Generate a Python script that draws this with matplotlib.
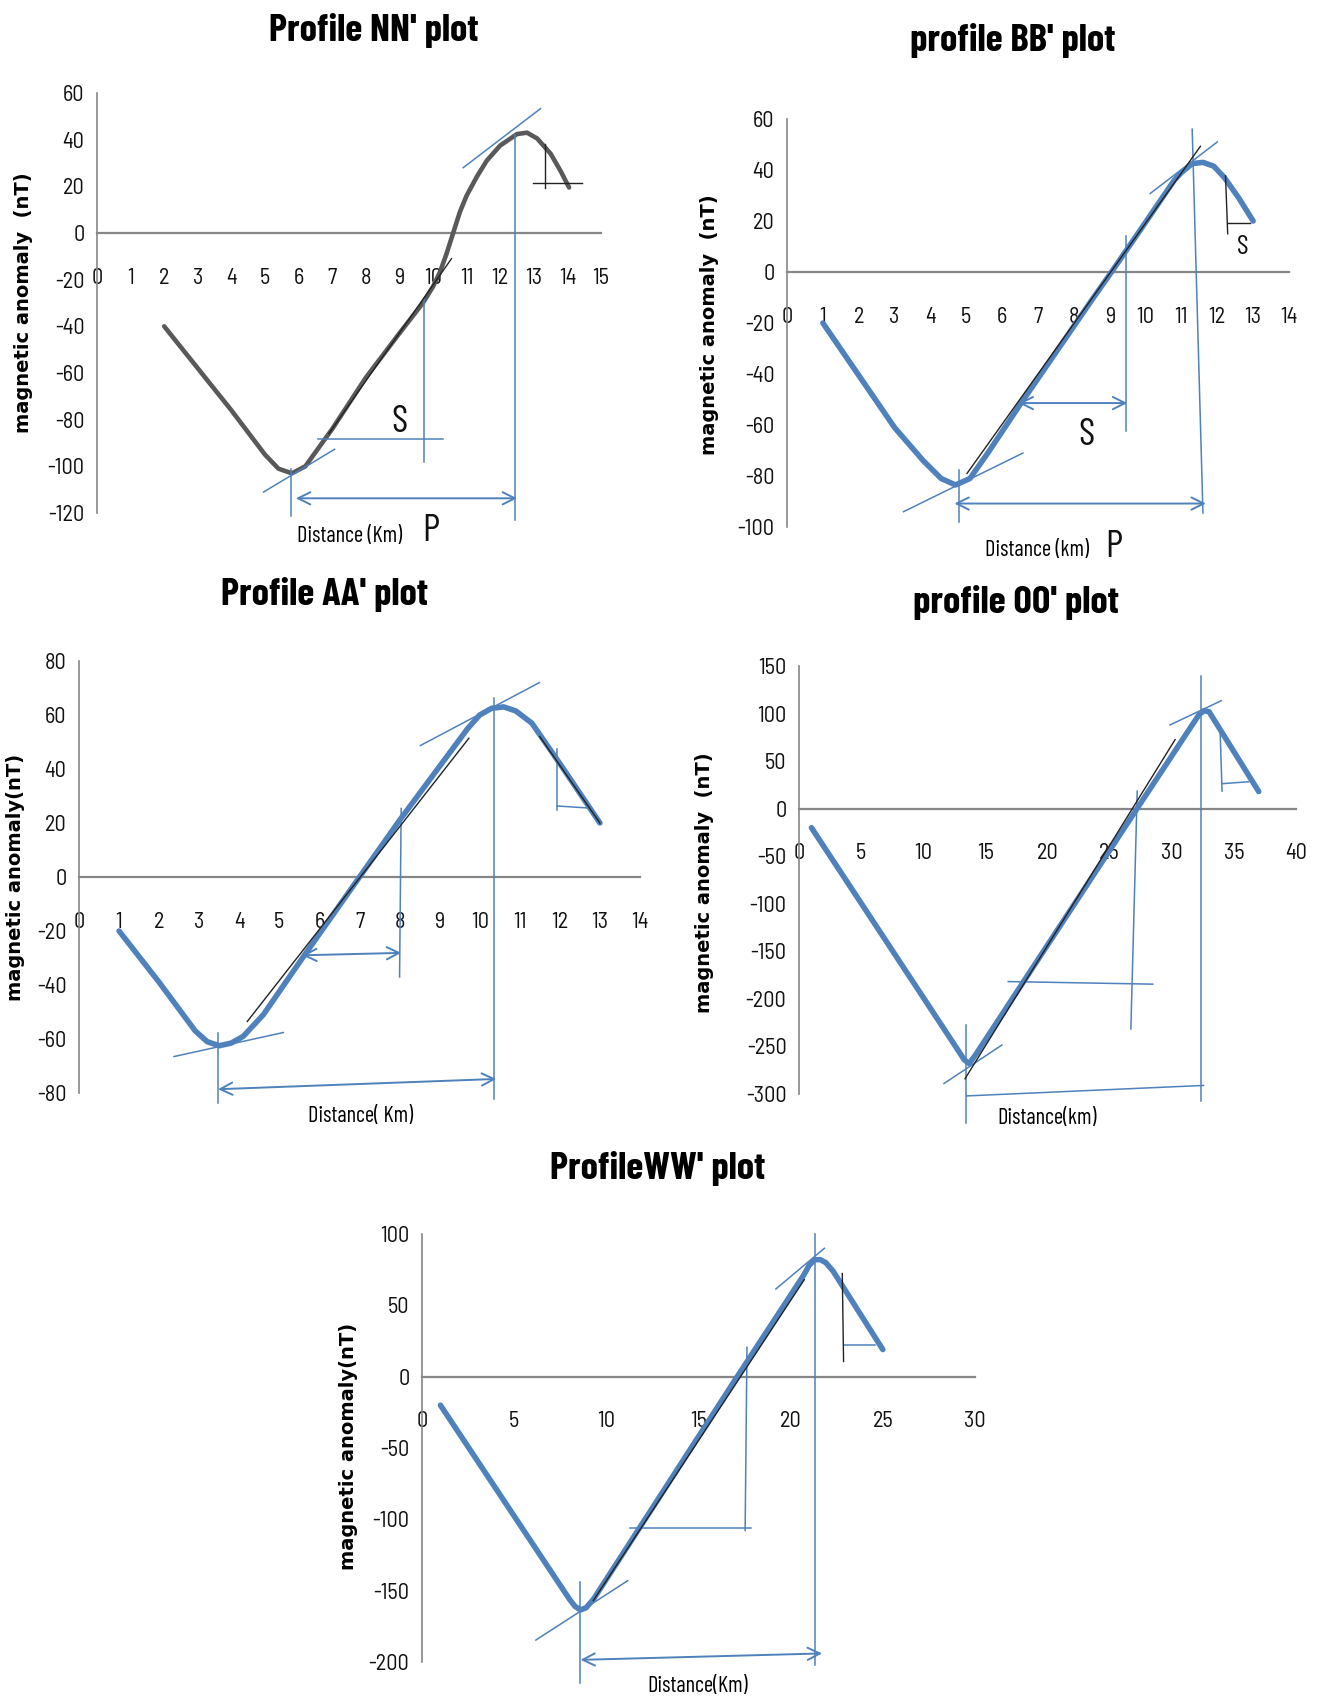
import matplotlib.pyplot as plt

plt.rcParams["axes.unicode_minus"] = False

BLUE = "#4F81BD"
CURVE_GRAY = "#595959"
AXIS_GRAY = "#868686"
NARROW = ["Barlow Condensed", "DejaVu Sans"]
TICKFONT = ["Barlow Semi Condensed", "DejaVu Sans"]

# ---------------- Profile NN' ----------------
nn_x = [2, 3, 4, 5, 5.4, 5.8, 6.2, 7, 8, 9, 9.7, 10.0, 10.2, 10.4, 10.6, 10.8, 11.0, 11.3,
        11.6, 12.0, 12.5, 12.8, 13.1, 13.5, 13.8, 14.05]
nn_y = [-40, -58, -76, -95, -101, -103, -100, -84, -62, -43, -30, -23, -17, -9, 0, 9, 16, 24,
        31, 37.5, 42.4, 43, 40.5, 34, 26.5, 19.5]
nn_xticks = list(range(0, 16))
nn_yticks = list(range(-120, 61, 20))
nn_blue = [((10.9, 28), (13.2, 53.3)), ((12.44, 42), (12.44, -123)),
           ((4.96, -111), (7.07, -92.7)), ((5.77, -101), (5.77, -121.5)),
           ((6.57, -88.5), (10.3, -88.5)), ((9.74, -28), (9.74, -98))]
nn_black = [((13.33, 38), (13.33, 19.5)), ((12.97, 21.5), (14.43, 21.5)),
            ((6.9, -86), (10.55, -11))]
nn_arrows = [((5.92, -113.7), (12.5, -113.7))]
nn_notes = [("S", 8.99, -81, 28), ("P", 9.93, -128, 28)]

# ---------------- Profile BB' ----------------
bb_x = [1, 2, 3, 3.8, 4.3, 4.7, 5.1, 5.6, 6.5, 7.5, 8.5, 9.05, 10, 10.8, 11.0, 11.3,
        11.6, 11.9, 12.2, 12.6, 13]
bb_y = [-20, -40.5, -61, -74, -81, -83.5, -81, -71, -52, -31.5, -11, 0, 19.5, 36, 39, 42.5,
        43, 41.5, 37, 29, 20]
bb_xticks = list(range(0, 15))
bb_yticks = list(range(-100, 61, 20))
bb_blue = [((11.3, 56), (11.6, -94.5)), ((10.13, 30.8), (12.0, 51)),
           ((3.25, -94), (6.58, -71)), ((4.81, -77.7), (4.81, -98)),
           ((9.46, 14.3), (9.46, -62.3))]
bb_black = [((5.02, -79), (11.53, 49.3)), ((12.23, 37.7), (12.29, 15)),
            ((12.29, 19.4), (12.9, 19.4))]
bb_arrows = [((4.67, -90.8), (11.68, -90.8)), ((6.46, -51.4), (9.49, -51.4))]
bb_notes = [("S", 8.35, -64, 28), ("S", 12.7, 10, 20), ("P", 9.11, -108, 28)]

# ---------------- Profile AA' ----------------
aa_x = [1, 2, 2.9, 3.2, 3.5, 3.8, 4.1, 4.6, 5.6, 7.0, 8.0, 9.0, 9.7, 10.0, 10.3, 10.6,
        10.9, 11.3, 12, 13]
aa_y = [-20, -39, -57, -61, -62.5, -61.5, -59, -51, -29.5, 0, 21, 41, 55, 60, 62.5, 63,
        61.5, 57, 42, 20]
aa_xticks = list(range(0, 15))
aa_yticks = list(range(-80, 81, 20))
aa_blue = [((10.36, 66.3), (10.36, -82.3)), ((8.52, 48.7), (11.49, 72)),
           ((2.37, -66.5), (5.1, -57.6)), ((3.46, -57.6), (3.46, -83.7)),
           ((8.04, 25.4), (8.0, -37)), ((11.93, 47.3), (11.93, 24.7)),
           ((11.93, 26.3), (12.67, 25.6))]
aa_black = [((4.2, -53.5), (9.73, 51.4)), ((11.5, 52), (13.0, 20))]
aa_arrows = [((3.47, -78.6), (10.41, -74.8)), ((5.57, -29), (8.04, -28.1))]

# ---------------- Profile OO' ----------------
oo_x = [1, 12.8, 13.3, 13.7, 14.2, 27.2, 32.2, 32.6, 33.0, 37]
oo_y = [-20, -254, -264, -268, -259, 0, 99, 103, 102, 18]
oo_xticks = list(range(0, 41, 5))
oo_yticks = list(range(-300, 151, 50))
oo_blue = [((32.36, 139), (32.36, -307)), ((29.86, 88), (33.98, 113.5)),
           ((11.67, -289), (16.33, -248.5)), ((13.46, -227), (13.46, -331)),
           ((13.52, -302), (32.56, -291)), ((16.84, -181.8), (28.47, -184.5)),
           ((27.22, 18.5), (26.71, -231.6)), ((33.9, 79), (34.05, 18.5)),
           ((34.1, 26.3), (36.18, 28.3))]
oo_black = [((13.36, -284), (30.27, 72.6))]

# ---------------- Profile WW' ----------------
ww_x = [1, 8.0, 8.3, 8.6, 8.9, 9.3, 17.1, 20.7, 21.0, 21.3, 21.6, 21.9, 22.3, 25]
ww_y = [-20, -156, -161, -163.5, -162, -156, 0, 71, 78, 82, 82, 80, 74, 19]
ww_xticks = list(range(0, 31, 5))
ww_yticks = list(range(-200, 101, 50))
ww_blue = [((21.3, 100), (21.3, -202)), ((19.2, 61.5), (21.83, 90)),
           ((6.18, -184.6), (11.16, -143)), ((8.56, -144), (8.56, -215)),
           ((11.28, -106), (17.83, -106)), ((17.63, 20.6), (17.53, -107.8)),
           ((22.87, 21.9), (24.6, 21.9))]
ww_black = [((9.29, -157), (20.74, 68)), ((22.8, 72.3), (22.87, 10.6))]
ww_arrows = [((8.6, -198.5), (21.7, -194))]

W, H = 1317, 1698
fig = plt.figure(figsize=(W / 100, H / 100), dpi=100)


def make_axes(left, right, top, bottom):
    return fig.add_axes([left / W, 1 - bottom / H, (right - left) / W, (bottom - top) / H])


def draw_profile(ax, x, y, color, lw, xticks, yticks, blue, black, arrows, notes=()):
    ax.plot(x, y, color=color, lw=lw, solid_capstyle="round", solid_joinstyle="round", zorder=3)
    for (x0, y0), (x1, y1) in blue:
        ax.plot([x0, x1], [y0, y1], color=BLUE, lw=1.1, clip_on=False, zorder=4)
    for (x0, y0), (x1, y1) in black:
        ax.plot([x0, x1], [y0, y1], color="#222222", lw=1.0, clip_on=False, zorder=5)
    for (x0, y0), (x1, y1) in arrows:
        ax.annotate("", xy=(x1, y1), xytext=(x0, y0), annotation_clip=False,
                    arrowprops=dict(arrowstyle="<->", color=BLUE, lw=1.4,
                                    mutation_scale=22, shrinkA=0, shrinkB=0))
    for txt, tx, ty, fs in notes:
        ax.text(tx, ty, txt, fontsize=fs, family=NARROW, ha="center", va="center",
                color="#111111", clip_on=False)

    ax.set_xlim(xticks[0], xticks[-1])
    ax.set_ylim(yticks[0], yticks[-1])
    ax.set_xticks(xticks)
    ax.set_yticks(yticks)
    ax.spines["top"].set_visible(False)
    ax.spines["right"].set_visible(False)
    ax.spines["bottom"].set_position(("data", 0))
    ax.spines["bottom"].set_color(AXIS_GRAY)
    ax.spines["bottom"].set_linewidth(1.6)
    ax.spines["left"].set_color(AXIS_GRAY)
    ax.spines["left"].set_linewidth(1.2)
    ax.tick_params(length=0, labelsize=16, colors="#111111")
    ax.tick_params(axis="x", pad=25)
    ax.tick_params(axis="y", pad=9)
    for lab in ax.get_xticklabels() + ax.get_yticklabels():
        lab.set_family(TICKFONT)
    ax.patch.set_alpha(0)


ax1 = make_axes(97, 601, 93, 513)
draw_profile(ax1, nn_x, nn_y, CURVE_GRAY, 3.3, nn_xticks, nn_yticks,
             nn_blue, nn_black, nn_arrows, nn_notes)
ax2 = make_axes(787, 1289, 119, 527)
draw_profile(ax2, bb_x, bb_y, BLUE, 4, bb_xticks, bb_yticks,
             bb_blue, bb_black, bb_arrows, bb_notes)
ax3 = make_axes(79, 640, 661, 1093)
draw_profile(ax3, aa_x, aa_y, BLUE, 4, aa_xticks, aa_yticks,
             aa_blue, aa_black, aa_arrows)
ax4 = make_axes(799, 1296, 666, 1094)
draw_profile(ax4, oo_x, oo_y, BLUE, 4, oo_xticks, oo_yticks,
             oo_blue, oo_black, [])
ax5 = make_axes(422, 975, 1234, 1662)
draw_profile(ax5, ww_x, ww_y, BLUE, 4, ww_xticks, ww_yticks,
             ww_blue, ww_black, ww_arrows)

# titles, axis titles (placed in figure pixels like the Excel chart boxes)
titles = [("Profile NN' plot", 374, 30), ("profile BB' plot", 1013, 40),
          ("Profile AA' plot", 325, 594), ("profile OO' plot", 1016, 602),
          ("ProfileWW' plot", 658, 1168)]
for txt, px, py in titles:
    fig.text(px / W, 1 - py / H, txt, fontsize=28, fontweight="bold", family=NARROW,
             ha="center", va="center")

ylabels = [("magnetic anomaly  (nT)", 24, 303), ("magnetic anomaly  (nT)", 709, 325),
           ("magnetic anomaly(nT)", 16, 877), ("magnetic anomaly  (nT)", 704, 883),
           ("magnetic anomaly(nT)", 349, 1446)]
for txt, px, py in ylabels:
    fig.text(px / W, 1 - py / H, txt, fontsize=14, fontweight="bold", family="DejaVu Sans",
             rotation=90, ha="center", va="center")

xlabels = [("Distance (Km)", 350, 536), ("Distance (km)", 1037, 550),
           ("Distance( Km)", 361, 1117), ("Distance(km)", 1047, 1119),
           ("Distance(Km)", 698, 1686)]
for txt, px, py in xlabels:
    fig.text(px / W, 1 - py / H, txt, fontsize=16, family=NARROW, ha="center", va="center")

fig.savefig("out.png", dpi=100)
